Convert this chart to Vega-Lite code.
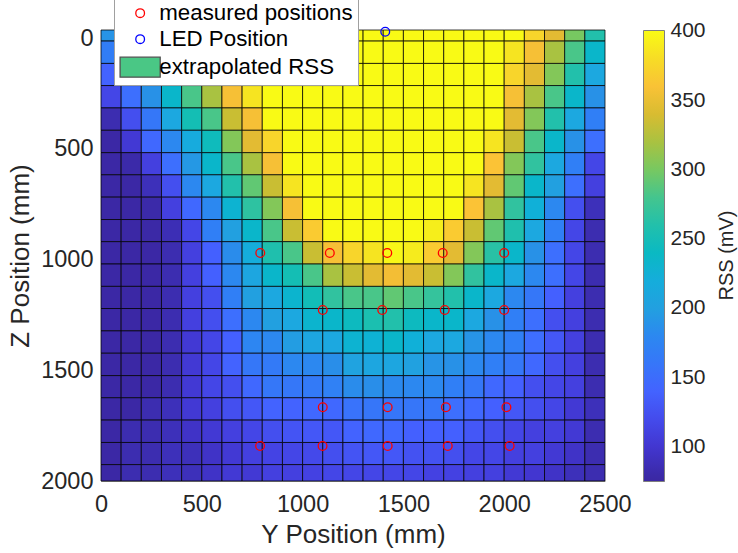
{
  "$schema": "https://vega.github.io/schema/vega-lite/v6.json",
  "width": 504,
  "height": 451,
  "autosize": "none",
  "padding": {"left": 101, "top": 30, "right": 133, "bottom": 72},
  "background": "white",
  "config": {"view": {"stroke": null}, "font": "Liberation Sans"},
  "title": {"text": "RSS (mV)", "orient": "right", "anchor": "middle", "frame": "group", "angle": 270, "baseline": "middle", "offset": 0, "fontSize": 20, "fontWeight": "normal", "color": "#262626", "font": "Liberation Sans"},
  "datasets": {
    "grid": [
      {"z0": -37, "z1": 13, "y0": [0,100,200,300,400,500,600,700,800,900,1000,1100,1200,1300,1400,1500,1600,1700,1800,1900,2000,2100,2200,2300,2400], "y1": [100,200,300,400,500,600,700,800,900,1000,1100,1200,1300,1400,1500,1600,1700,1800,1900,2000,2100,2200,2300,2400,2500], "rss": [192,225,255,290,330,362,390,400,400,400,400,400,400,400,400,400,400,400,400,400,400,375,345,300,260]},
      {"z0": 13, "z1": 114, "y0": [0,100,200,300,400,500,600,700,800,900,1000,1100,1200,1300,1400,1500,1600,1700,1800,1900,2000,2100,2200,2300,2400], "y1": [100,200,300,400,500,600,700,800,900,1000,1100,1200,1300,1400,1500,1600,1700,1800,1900,2000,2100,2200,2300,2400,2500], "rss": [168,200,235,265,310,350,375,400,400,400,400,400,400,400,400,400,400,400,400,400,385,358,320,282,235]},
      {"z0": 114, "z1": 214, "y0": [0,100,200,300,400,500,600,700,800,900,1000,1100,1200,1300,1400,1500,1600,1700,1800,1900,2000,2100,2200,2300,2400], "y1": [100,200,300,400,500,600,700,800,900,1000,1100,1200,1300,1400,1500,1600,1700,1800,1900,2000,2100,2200,2300,2400,2500], "rss": [140,172,205,240,295,340,362,395,400,400,400,400,400,400,400,400,400,400,400,400,375,345,305,260,212]},
      {"z0": 214, "z1": 315, "y0": [0,100,200,300,400,500,600,700,800,900,1000,1100,1200,1300,1400,1500,1600,1700,1800,1900,2000,2100,2200,2300,2400], "y1": [100,200,300,400,500,600,700,800,900,1000,1100,1200,1300,1400,1500,1600,1700,1800,1900,2000,2100,2200,2300,2400,2500], "rss": [116,152,190,235,282,320,358,385,400,400,400,400,400,400,400,400,400,400,400,400,358,320,282,235,190]},
      {"z0": 315, "z1": 416, "y0": [0,100,200,300,400,500,600,700,800,900,1000,1100,1200,1300,1400,1500,1600,1700,1800,1900,2000,2100,2200,2300,2400], "y1": [100,200,300,400,500,600,700,800,900,1000,1100,1200,1300,1400,1500,1600,1700,1800,1900,2000,2100,2200,2300,2400,2500], "rss": [85,123,162,212,250,282,333,358,400,400,400,400,400,400,400,400,400,400,400,400,345,305,260,212,170]},
      {"z0": 416, "z1": 517, "y0": [0,100,200,300,400,500,600,700,800,900,1000,1100,1200,1300,1400,1500,1600,1700,1800,1900,2000,2100,2200,2300,2400], "y1": [100,200,300,400,500,600,700,800,900,1000,1100,1200,1300,1400,1500,1600,1700,1800,1900,2000,2100,2200,2300,2400,2500], "rss": [77,103,145,180,218,245,305,345,375,400,400,400,400,400,400,400,400,400,400,385,333,282,235,190,152]},
      {"z0": 517, "z1": 617, "y0": [0,100,200,300,400,500,600,700,800,900,1000,1100,1200,1300,1400,1500,1600,1700,1800,1900,2000,2100,2200,2300,2400], "y1": [100,200,300,400,500,600,700,800,900,1000,1100,1200,1300,1400,1500,1600,1700,1800,1900,2000,2100,2200,2300,2400,2500], "rss": [77,80,110,152,195,235,282,320,358,400,400,400,400,400,400,400,400,400,400,362,305,270,212,170,116]},
      {"z0": 617, "z1": 718, "y0": [0,100,200,300,400,500,600,700,800,900,1000,1100,1200,1300,1400,1500,1600,1700,1800,1900,2000,2100,2200,2300,2400], "y1": [100,200,300,400,500,600,700,800,900,1000,1100,1200,1300,1400,1500,1600,1700,1800,1900,2000,2100,2200,2300,2400,2500], "rss": [77,77,90,123,180,212,260,292,333,385,400,400,400,400,400,400,400,400,385,345,292,235,200,152,110]},
      {"z0": 718, "z1": 819, "y0": [0,100,200,300,400,500,600,700,800,900,1000,1100,1200,1300,1400,1500,1600,1700,1800,1900,2000,2100,2200,2300,2400], "y1": [100,200,300,400,500,600,700,800,900,1000,1100,1200,1300,1400,1500,1600,1700,1800,1900,2000,2100,2200,2300,2400,2500], "rss": [77,77,80,110,145,180,230,268,305,358,400,400,400,400,400,400,400,400,362,320,270,225,180,123,90]},
      {"z0": 819, "z1": 919, "y0": [0,100,200,300,400,500,600,700,800,900,1000,1100,1200,1300,1400,1500,1600,1700,1800,1900,2000,2100,2200,2300,2400], "y1": [100,200,300,400,500,600,700,800,900,1000,1100,1200,1300,1400,1500,1600,1700,1800,1900,2000,2100,2200,2300,2400,2500], "rss": [77,77,78,88,116,170,200,235,282,333,368,400,400,400,400,400,392,368,333,292,258,212,170,116,85]},
      {"z0": 919, "z1": 1020, "y0": [0,100,200,300,400,500,600,700,800,900,1000,1100,1200,1300,1400,1500,1600,1700,1800,1900,2000,2100,2200,2300,2400], "y1": [100,200,300,400,500,600,700,800,900,1000,1100,1200,1300,1400,1500,1600,1700,1800,1900,2000,2100,2200,2300,2400,2500], "rss": [77,77,77,85,110,138,185,220,258,282,333,358,375,385,398,390,368,345,305,265,235,190,152,116,85]},
      {"z0": 1020, "z1": 1121, "y0": [0,100,200,300,400,500,600,700,800,900,1000,1100,1200,1300,1400,1500,1600,1700,1800,1900,2000,2100,2200,2300,2400], "y1": [100,200,300,400,500,600,700,800,900,1000,1100,1200,1300,1400,1500,1600,1700,1800,1900,2000,2100,2200,2300,2400,2500], "rss": [77,77,77,85,110,138,180,210,235,250,282,320,333,345,355,345,333,305,270,235,212,180,152,116,85]},
      {"z0": 1121, "z1": 1221, "y0": [0,100,200,300,400,500,600,700,800,900,1000,1100,1200,1300,1400,1500,1600,1700,1800,1900,2000,2100,2200,2300,2400], "y1": [100,200,300,400,500,600,700,800,900,1000,1100,1200,1300,1400,1500,1600,1700,1800,1900,2000,2100,2200,2300,2400,2500], "rss": [77,77,77,85,110,123,170,200,212,232,248,270,282,282,292,282,272,260,235,212,180,162,138,110,85]},
      {"z0": 1221, "z1": 1322, "y0": [0,100,200,300,400,500,600,700,800,900,1000,1100,1200,1300,1400,1500,1600,1700,1800,1900,2000,2100,2200,2300,2400], "y1": [100,200,300,400,500,600,700,800,900,1000,1100,1200,1300,1400,1500,1600,1700,1800,1900,2000,2100,2200,2300,2400,2500], "rss": [77,77,77,85,110,123,152,180,200,212,232,235,243,255,260,243,235,235,212,190,170,152,123,110,85]},
      {"z0": 1322, "z1": 1423, "y0": [0,100,200,300,400,500,600,700,800,900,1000,1100,1200,1300,1400,1500,1600,1700,1800,1900,2000,2100,2200,2300,2400], "y1": [100,200,300,400,500,600,700,800,900,1000,1100,1200,1300,1400,1500,1600,1700,1800,1900,2000,2100,2200,2300,2400,2500], "rss": [77,77,77,85,103,116,138,178,180,198,210,212,230,228,235,225,212,212,192,180,170,150,130,110,85]},
      {"z0": 1423, "z1": 1524, "y0": [0,100,200,300,400,500,600,700,800,900,1000,1100,1200,1300,1400,1500,1600,1700,1800,1900,2000,2100,2200,2300,2400], "y1": [100,200,300,400,500,600,700,800,900,1000,1100,1200,1300,1400,1500,1600,1700,1800,1900,2000,2100,2200,2300,2400,2500], "rss": [77,77,77,85,103,116,140,162,165,180,180,188,205,210,210,202,192,190,180,170,162,145,123,110,85]},
      {"z0": 1524, "z1": 1624, "y0": [0,100,200,300,400,500,600,700,800,900,1000,1100,1200,1300,1400,1500,1600,1700,1800,1900,2000,2100,2200,2300,2400], "y1": [100,200,300,400,500,600,700,800,900,1000,1100,1200,1300,1400,1500,1600,1700,1800,1900,2000,2100,2200,2300,2400,2500], "rss": [77,77,77,85,103,116,123,145,162,162,165,172,185,188,182,180,180,170,162,145,138,123,116,110,85]},
      {"z0": 1624, "z1": 1725, "y0": [0,100,200,300,400,500,600,700,800,900,1000,1100,1200,1300,1400,1500,1600,1700,1800,1900,2000,2100,2200,2300,2400], "y1": [100,200,300,400,500,600,700,800,900,1000,1100,1200,1300,1400,1500,1600,1700,1800,1900,2000,2100,2200,2300,2400,2500], "rss": [77,77,85,90,103,110,123,130,140,140,145,145,157,160,160,160,160,152,145,138,130,123,116,103,90]},
      {"z0": 1725, "z1": 1826, "y0": [0,100,200,300,400,500,600,700,800,900,1000,1100,1200,1300,1400,1500,1600,1700,1800,1900,2000,2100,2200,2300,2400], "y1": [100,200,300,400,500,600,700,800,900,1000,1100,1200,1300,1400,1500,1600,1700,1800,1900,2000,2100,2200,2300,2400,2500], "rss": [77,85,85,90,96,103,110,116,123,127,130,130,140,145,145,138,138,138,130,123,116,110,110,103,85]},
      {"z0": 1826, "z1": 1926, "y0": [0,100,200,300,400,500,600,700,800,900,1000,1100,1200,1300,1400,1500,1600,1700,1800,1900,2000,2100,2200,2300,2400], "y1": [100,200,300,400,500,600,700,800,900,1000,1100,1200,1300,1400,1500,1600,1700,1800,1900,2000,2100,2200,2300,2400,2500], "rss": [77,85,85,90,90,96,103,110,113,116,118,123,127,130,130,125,125,123,116,116,110,110,103,96,85]},
      {"z0": 1926, "z1": 2000, "y0": [0,100,200,300,400,500,600,700,800,900,1000,1100,1200,1300,1400,1500,1600,1700,1800,1900,2000,2100,2200,2300,2400], "y1": [100,200,300,400,500,600,700,800,900,1000,1100,1200,1300,1400,1500,1600,1700,1800,1900,2000,2100,2200,2300,2400,2500], "rss": [77,85,85,90,90,96,103,103,110,110,112,116,116,116,116,116,112,112,110,110,103,100,96,90,85]}
    ],
    "pts": [
      {"y": 790, "z": 970, "series": "measured positions"},
      {"y": 1135, "z": 970, "series": "measured positions"},
      {"y": 1420, "z": 970, "series": "measured positions"},
      {"y": 1695, "z": 970, "series": "measured positions"},
      {"y": 2000, "z": 970, "series": "measured positions"},
      {"y": 1100, "z": 1228, "series": "measured positions"},
      {"y": 1395, "z": 1228, "series": "measured positions"},
      {"y": 1705, "z": 1228, "series": "measured positions"},
      {"y": 2000, "z": 1228, "series": "measured positions"},
      {"y": 1100, "z": 1667, "series": "measured positions"},
      {"y": 1422, "z": 1667, "series": "measured positions"},
      {"y": 1711, "z": 1667, "series": "measured positions"},
      {"y": 2011, "z": 1667, "series": "measured positions"},
      {"y": 789, "z": 1842, "series": "measured positions"},
      {"y": 1099, "z": 1842, "series": "measured positions"},
      {"y": 1422, "z": 1842, "series": "measured positions"},
      {"y": 1720, "z": 1842, "series": "measured positions"},
      {"y": 2027, "z": 1842, "series": "measured positions"},
      {"y": 1410, "z": -29, "series": "LED Position"}
    ]
  },
  "layer": [
    {
      "data": {"name": "grid"},
      "transform": [{"flatten": ["y0", "y1", "rss"]}],
      "mark": {"type": "rect", "stroke": "#000000", "strokeWidth": 1, "strokeOpacity": 0.75},
      "encoding": {
        "x": {
          "field": "y0", "type": "quantitative",
          "scale": {"domain": [0, 2500], "nice": false, "zero": false},
          "axis": {"title": "Y Position (mm)", "values": [0, 500, 1000, 1500, 2000, 2500], "format": "d", "grid": false, "ticks": false, "labelFlush": false, "labelFontSize": 23.5, "labelColor": "#262626", "labelPadding": 11, "titleFontSize": 26, "titleFontWeight": "normal", "titleColor": "#262626", "titlePadding": 6, "domainColor": "#999999", "domainWidth": 1}
        },
        "x2": {"field": "y1"},
        "y": {
          "field": "z0", "type": "quantitative",
          "scale": {"domain": [-37, 2000], "reverse": true, "nice": false, "zero": false},
          "axis": {"title": "Z Position (mm)", "values": [0, 500, 1000, 1500, 2000], "format": "d", "grid": false, "ticks": false, "labelFlush": false, "labelFontSize": 23.5, "labelColor": "#262626", "labelPadding": 8, "titleFontSize": 26, "titleFontWeight": "normal", "titleColor": "#262626", "titlePadding": 7, "domainColor": "#999999", "domainWidth": 1}
        },
        "y2": {"field": "z1"},
        "color": {
          "field": "rss", "type": "quantitative",
          "scale": {"domain": [75, 400.6], "clamp": true, "interpolate": "rgb",
            "range": ["#3b27a2","#3c2eb4","#4236d0","#4442e3","#4452f2","#4460ff","#3e6eff","#3478f8","#2e84f4","#298ee9","#22a0e0","#1ca8e0","#10b0d8","#08b8c6","#14beb4","#26c0a8","#3ac498","#56c87c","#78c860","#96c44c","#b8c038","#d4bc30","#eeba35","#fcc436","#f8d62a","#f5e81e","#f9fb15"]},
          "legend": {
            "type": "gradient", "orient": "none", "legendX": 542.5, "legendY": 0.5, "direction": "vertical",
            "gradientLength": 451, "gradientThickness": 21, "gradientStrokeColor": "#7f7f7f", "gradientStrokeWidth": 1,
            "values": [100, 150, 200, 250, 300, 350, 400], "labelOverlap": false,
            "labelFontSize": 21, "labelOffset": 6, "labelColor": "#262626",
            "title": null, "padding": 0
          }
        }
      }
    },
    {
      "data": {"name": "pts"},
      "mark": {"type": "point", "size": 76, "strokeWidth": 1.3, "opacity": 1},
      "encoding": {
        "x": {"field": "y", "type": "quantitative", "axis": {"title": "Y Position (mm)"}},
        "y": {"field": "z", "type": "quantitative", "axis": {"title": "Z Position (mm)"}},
        "stroke": {
          "field": "series", "type": "nominal",
          "scale": {"domain": ["measured positions", "LED Position", "extrapolated RSS"], "range": ["#ff0000", "#0000ff", "#505050"]},
          "legend": {
            "orient": "none", "legendX": 13, "legendY": -33, "title": null, "zindex": 1,
            "symbolSize": 76, "symbolStrokeWidth": 1.3, "symbolOffset": 10,
            "labelFontSize": 22.3, "labelColor": "#000000", "labelOffset": 8, "labelLimit": 0, "rowPadding": 3,
            "padding": 5, "fillColor": "#ffffff", "strokeColor": "#a0a0a0"
          }
        },
        "fill": {
          "field": "series", "type": "nominal",
          "scale": {"domain": ["measured positions", "LED Position", "extrapolated RSS"], "range": ["transparent", "transparent", "#4ac785"]},
          "legend": {
            "orient": "none", "legendX": 13, "legendY": -33, "title": null, "zindex": 1,
            "symbolSize": 76, "symbolStrokeWidth": 1.3, "symbolOffset": 10,
            "labelFontSize": 22.3, "labelColor": "#000000", "labelOffset": 8, "labelLimit": 0, "rowPadding": 3,
            "padding": 5, "fillColor": "#ffffff", "strokeColor": "#a0a0a0"
          }
        },
        "shape": {
          "field": "series", "type": "nominal",
          "scale": {"domain": ["measured positions", "LED Position", "extrapolated RSS"], "range": ["circle", "circle", "M-4.6,-2.3H4.6V2.3H-4.6Z"]},
          "legend": {
            "orient": "none", "legendX": 13, "legendY": -33, "title": null, "zindex": 1,
            "symbolSize": 76, "symbolStrokeWidth": 1.3, "symbolOffset": 10,
            "labelFontSize": 22.3, "labelColor": "#000000", "labelOffset": 8, "labelLimit": 0, "rowPadding": 3,
            "padding": 5, "fillColor": "#ffffff", "strokeColor": "#a0a0a0"
          }
        }
      }
    }
  ]
}
